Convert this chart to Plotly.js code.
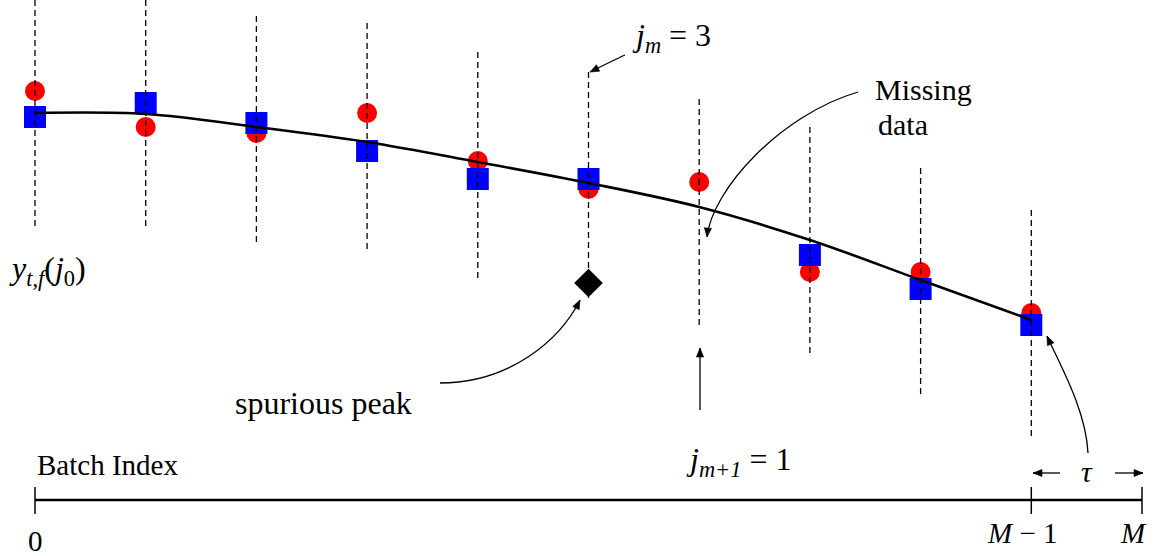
<!DOCTYPE html>
<html>
<head>
<meta charset="utf-8">
<script src="https://cdn.plot.ly/plotly-3.0.1.min.js"></script>
<style>
  html, body { margin: 0; padding: 0; background: #ffffff; }
  #chart { width: 1163px; height: 556px; }
</style>
</head>
<body>
<div id="chart"></div>
<script>
// Batch positions and the two measured series around the fitted trend
const batchIndex   = [0, 1, 2, 3, 4, 5, 6, 7, 8, 9];
const measuredA    = [4.09, 3.73, 3.67, 3.87, 3.39, 3.11, 3.18, 2.28, 2.28, 1.87];
const measuredB    = [3.83, 3.97, 3.77, 3.49, 3.21, 3.21, null, 2.45, 2.11, 1.75];
const trend        = [3.87, 3.86, 3.73, 3.58, 3.38, 3.17, 2.93, 2.60, 2.20, 1.80];
// Vertical extent of each batch's search window
const windowTop    = [5.00, 5.00, 4.84, 4.77, 4.48, 4.28, 4.01, 3.73, 3.32, 2.90];
const windowBottom = [2.70, 2.70, 2.57, 2.50, 2.22, 2.02, 1.73, 1.47, 1.05, 0.63];
// Spurious peak found at batch j_m
const spuriousBatch = [5];
const spuriousValue = [2.17];
// Batch index axis
const M = 10;
const axisTicks    = [0, M - 1, M];
const axisTickText = ['0', '<i>M</i> − 1', '<i>M</i>'];

// Frame: one batch step spans 110.7 px, the axis baseline sits 500 px from the top
const STEP = 110.7, X0 = 35, BASE = 500, UNIT = 100, W = 1163, H = 556;
const X = px => (px - X0) / STEP;
const Y = py => (BASE - py) / UNIT;

const FONT = "Liberation Serif, serif";
const INK = '#000000';

// Dashed window lines, one segment per batch
const dashX = [], dashY = [];
batchIndex.forEach((j, i) => {
  dashX.push(j, j, null);
  dashY.push(windowTop[i], windowBottom[i], null);
});

// Axis ticks
const tickX = [], tickY = [];
axisTicks.forEach(t => { tickX.push(t, t, null); tickY.push(Y(487), Y(514), null); });

const traces = [
  { x: batchIndex, y: measuredA, mode: 'markers', type: 'scatter',
    marker: { symbol: 'circle', size: 20, color: '#ff0000', line: { width: 0 } } },
  { x: batchIndex, y: measuredB, mode: 'markers', type: 'scatter',
    marker: { symbol: 'square', size: 22, color: '#0000ff', line: { width: 0 } } },
  { x: dashX, y: dashY, mode: 'lines', type: 'scatter',
    line: { color: INK, width: 1.3, dash: '6px,4px' } },
  { x: spuriousBatch, y: spuriousValue, mode: 'markers', type: 'scatter',
    marker: { symbol: 'diamond', size: 22, color: INK, line: { width: 0 } } },
  { x: batchIndex, y: trend, mode: 'lines', type: 'scatter',
    line: { color: INK, width: 2.6, shape: 'spline', smoothing: 1 } },
  { x: [0, M], y: [0, 0], mode: 'lines', type: 'scatter',
    line: { color: INK, width: 2.6 } },
  { x: tickX, y: tickY, mode: 'lines', type: 'scatter',
    line: { color: INK, width: 1.5 } }
];

// Leader lines in the pixel frame: cubic Béziers and straight segments
const P = (px, py) => X(px) + ',' + Y(py);
function bez(c) {
  return 'M ' + P(c[0], c[1]) + ' C ' + P(c[2], c[3]) + ' ' + P(c[4], c[5]) + ' ' + P(c[6], c[7]);
}
const leaders = [
  [858, 92, 780, 115, 712, 190, 707, 237],      // Missing data
  [440, 383, 510, 383, 560, 340, 580, 300],     // spurious peak
  [1088, 453, 1086, 410, 1060, 365, 1047, 336], // tau
  [625, 55, 614, 60, 602, 66, 590, 72],         // j_m
  [700, 410, 700, 390, 700, 370, 700, 348],     // j_{m+1}
  [1060, 473, 1050, 473, 1042, 473, 1033, 473], // tau span left
  [1115, 473, 1124, 473, 1134, 473, 1143, 473]  // tau span right
];
const shapes = leaders.map(c => ({
  type: 'path', xref: 'x', yref: 'y', path: bez(c),
  line: { color: INK, width: 1.3 }, fillcolor: 'rgba(0,0,0,0)'
}));
// Arrow tips: filled triangles aligned with each leader's end tangent
leaders.forEach(c => {
  let dx = c[6] - c[4], dy = c[7] - c[5];
  const n = Math.hypot(dx, dy); dx /= n; dy /= n;
  const L = 9, hw = 3.6;
  const bx = c[6] - L * dx, by = c[7] - L * dy;
  shapes.push({
    type: 'path', xref: 'x', yref: 'y',
    path: 'M ' + P(c[6], c[7]) + ' L ' + P(bx - hw * dy, by + hw * dx) +
          ' L ' + P(bx + hw * dy, by - hw * dx) + ' Z',
    line: { color: INK, width: 0.6 }, fillcolor: INK
  });
});

function label(text, px, py, size, anchor) {
  return { x: X(px), y: Y(py), xref: 'x', yref: 'y', text: text, showarrow: false,
           xanchor: anchor || 'center', yanchor: 'middle',
           font: { family: FONT, size: size, color: INK } };
}

const annotations = [
  label('<i>j<sub>m</sub></i> = 3', 630, 37, 32, 'left'),
  label('Missing', 873, 89, 30, 'left'),
  label('data', 876, 124, 30, 'left'),
  label('<i>y<sub>t,f</sub></i>(<i>j</i><sub>0</sub>)', 7, 270, 32, 'left'),
  label('spurious peak', 323, 403, 32),
  label('<i>j<sub>m+1</sub></i> = 1', 738, 461, 32),
  label('<i>τ</i>', 1087, 471, 30),
  label('Batch Index', 35, 465, 29, 'left')
];
// Tick labels below the batch axis
const tickLabelY = [541, 533, 533];
const tickLabelShift = [0, -9, -9];
axisTicks.forEach((t, i) => {
  const a = label(axisTickText[i], 0, tickLabelY[i], 29);
  a.x = t; a.xshift = tickLabelShift[i];
  annotations.push(a);
});

const layout = {
  width: W, height: H,
  margin: { l: 0, r: 0, t: 0, b: 0, pad: 0 },
  paper_bgcolor: '#ffffff', plot_bgcolor: '#ffffff',
  showlegend: false, hovermode: false,
  font: { family: FONT },
  xaxis: { range: [X(0), X(W)], visible: false, fixedrange: true },
  yaxis: { range: [Y(H), Y(0)], visible: false, fixedrange: true },
  shapes: shapes,
  annotations: annotations
};

Plotly.newPlot('chart', traces, layout, { staticPlot: true, displayModeBar: false });
</script>
</body>
</html>
